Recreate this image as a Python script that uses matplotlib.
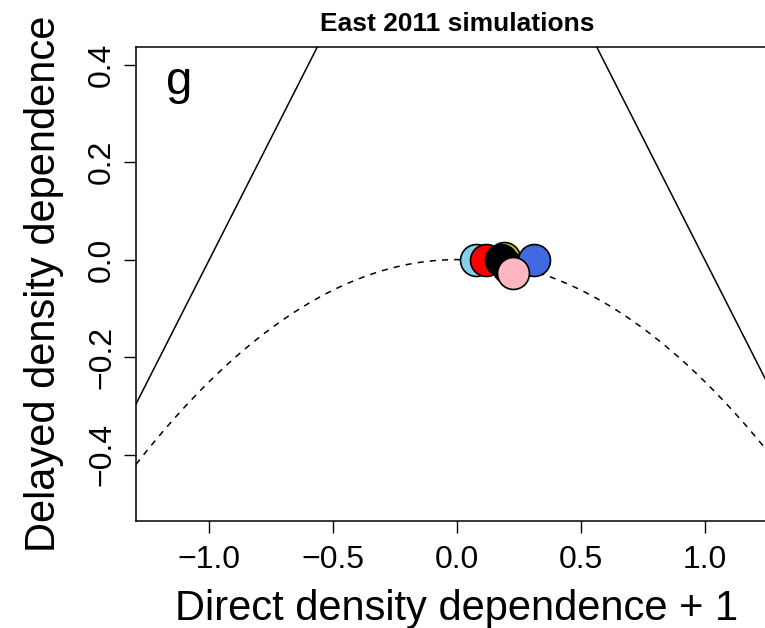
import matplotlib
matplotlib.use("Agg")
import matplotlib.pyplot as plt
import numpy as np

# Simulation points (direct dd + 1, delayed dd) and their fill colours.
sim_x = [0.077, 0.117, 0.19, 0.205, 0.177, 0.31, 0.226]
sim_y = [0.0, 0.0, 0.003, -0.015, 0.0, 0.0, -0.027]
sim_colors = ['#87CEEB', '#FF0000', '#CDCD00', '#000000', '#000000',
              '#4169E1', '#FFB6C1']

x_ticks = [-1.0, -0.5, 0.0, 0.5, 1.0]
y_ticks = [-0.4, -0.2, 0.0, 0.2, 0.4]
x_limits = (-1.296, 1.296)
y_limits = (-0.536, 0.436)

plt.rcParams['font.family'] = ['Liberation Sans', 'DejaVu Sans']

fig = plt.figure(figsize=(7.65, 6.28), dpi=100)
ax = fig.add_axes([0.1778, 0.1704, 1.017 - 0.1778, 0.9252 - 0.1704])

# Stability triangle edges and the complex-eigenvalue boundary.
xs = np.linspace(x_limits[0], x_limits[1], 400)
ax.plot(xs, 1 + xs, color='black', lw=1.1)
ax.plot(xs, 1 - xs, color='black', lw=1.1)
ax.plot(xs, -xs ** 2 / 4, color='black', lw=1.1, ls=(0, (4, 4)))

for x, y, c in zip(sim_x, sim_y, sim_colors):
    ax.plot(x, y, 'o', ms=23, mfc=c, mec='black', mew=1.2, zorder=3)

ax.set_xlim(*x_limits)
ax.set_ylim(*y_limits)
ax.set_xticks(x_ticks)
ax.set_xticklabels(['\u22121.0', '\u22120.5', '0.0', '0.5', '1.0'])
ax.set_yticks(y_ticks)
ax.set_yticklabels(['\u22120.4', '\u22120.2', '0.0', '0.2', '0.4'],
                   rotation=90, va='center')
ax.tick_params(direction='out', length=8.6, width=1, labelsize=23)
ax.tick_params(axis='x', pad=9)
ax.tick_params(axis='y', pad=5)
for s in ax.spines.values():
    s.set_linewidth(1.1)

fig.text(457 / 765, 1 - 620 / 628, 'Direct density dependence + 1',
         fontsize=30, ha='center', va='baseline')
fig.text(55 / 765, 1 - 284 / 628, 'Delayed density dependence',
         fontsize=30, rotation=90, rotation_mode='anchor',
         ha='center', va='baseline')
fig.text(457 / 765, 1 - 24 / 628, 'East 2011 simulations', fontsize=19,
         fontweight='bold', ha='center', va='center')
fig.text(166 / 765, 1 - 94 / 628, 'g', fontsize=34, va='baseline')

fig.savefig('out.png', dpi=100)
